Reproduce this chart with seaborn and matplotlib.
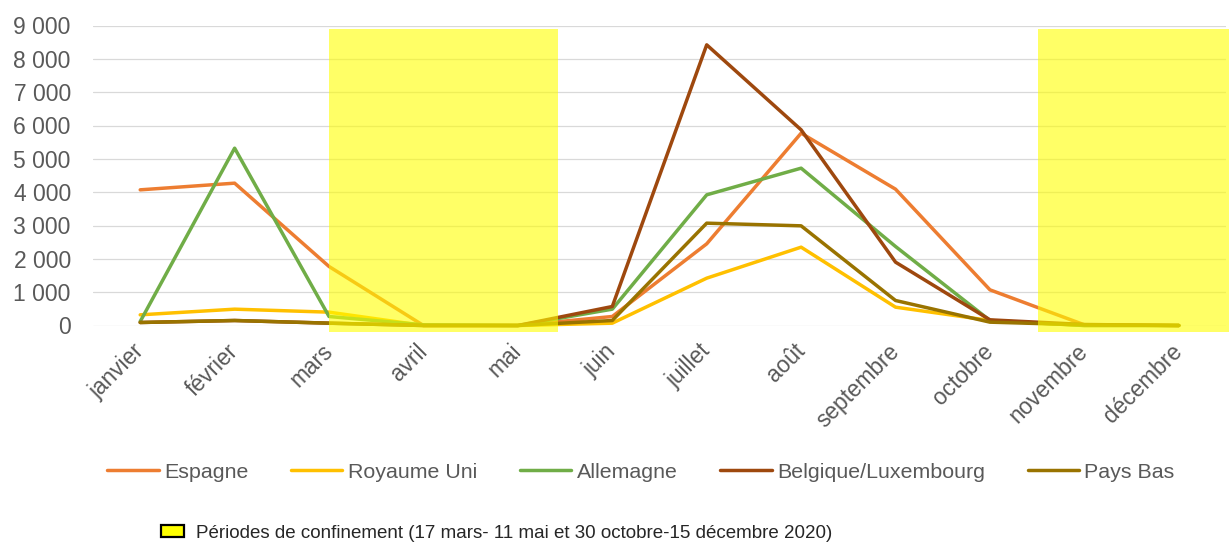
import pandas as pd
import matplotlib
matplotlib.use("Agg")
import matplotlib.pyplot as plt
import seaborn as sns
from matplotlib.patches import Rectangle, Patch
from matplotlib.ticker import FuncFormatter

# month categories
months = ["janvier", "février", "mars", "avril", "mai", "juin", "juillet",
          "août", "septembre", "octobre", "novembre", "décembre"]

# series values
espagne = [4070, 4270, 1770, 0, 0, 270, 2450, 5770, 4090, 1070, 20, 0]
royaume_uni = [320, 490, 400, 0, 0, 70, 1420, 2350, 550, 150, 0, 0]
allemagne = [120, 5320, 270, 20, 0, 490, 3920, 4720, 2370, 150, 0, 0]
belgique_lux = [90, 150, 70, 0, 0, 570, 8420, 5870, 1900, 170, 30, 0]
pays_bas = [90, 150, 70, 0, 0, 150, 3070, 2990, 750, 100, 20, 0]

series_names = ["Espagne", "Royaume Uni", "Allemagne", "Belgique/Luxembourg", "Pays Bas"]
series_values = [espagne, royaume_uni, allemagne, belgique_lux, pays_bas]
colors = ["#ED7D31", "#FFC000", "#70AD47", "#9E480E", "#997300"]

# lockdown periods in month-index units (17 mars - 11 mai, 30 oct - 15 dec)
lockdowns = [(2.0, 4.43), (9.51, 11.55)]
lockdown_label = "Périodes de confinement (17 mars- 11 mai et 30 octobre-15 décembre 2020)"

rows = []
for name, vals in zip(series_names, series_values):
    for i, v in enumerate(vals):
        rows.append({"pos": i, "mois": months[i], "valeur": v, "pays": name})
df = pd.DataFrame(rows)

sns.set_style("white")
plt.rcParams["font.family"] = ["Liberation Sans", "DejaVu Sans"]
text_color = "#595959"

fig = plt.figure(figsize=(12.29, 5.45), dpi=100)
ax = fig.add_axes([93 / 1229, 1 - 325.5 / 545, (1226 - 93) / 1229, 300 / 545])

sns.lineplot(data=df, x="pos", y="valeur", hue="pays", hue_order=series_names,
             palette=colors, linewidth=2.5, ax=ax, clip_on=False)

for x0, x1 in lockdowns:
    ax.add_patch(Rectangle((x0, -190), x1 - x0, 9100, facecolor="#FFFF00",
                           alpha=0.6, edgecolor="none", zorder=5, clip_on=False))

ax.set_xlim(-0.5, 11.5)
ax.set_ylim(0, 9000)
ax.set_yticks(range(0, 9001, 1000))
ax.yaxis.set_major_formatter(FuncFormatter(lambda v, p: f"{int(v):,}".replace(",", " ")))
ax.set_xticks(range(len(months)))
ax.set_xticklabels(months, rotation=45, ha="right", va="center", rotation_mode="anchor")
ax.tick_params(axis="y", length=0, pad=16, labelsize=16.5, labelcolor=text_color)
ax.tick_params(axis="x", length=0, pad=16, labelsize=16.3, labelcolor=text_color)
ax.grid(axis="y", color="#D9D9D9", linewidth=0.9)
ax.grid(axis="x", visible=False)
ax.set_axisbelow(True)
for s in ax.spines.values():
    s.set_visible(False)
ax.set_xlabel("")
ax.set_ylabel("")

handles, labels = ax.get_legend_handles_labels()
ax.get_legend().remove()
leg = fig.legend(handles, labels, loc="center", bbox_to_anchor=(0.5215, 1 - 472 / 545),
                 ncol=5, frameon=False, fontsize=15.4, handlelength=2.4,
                 handletextpad=0.25, columnspacing=2.0, borderpad=0)
for t in leg.get_texts():
    t.set_color(text_color)

box = Patch(facecolor="#FFFF00", edgecolor="black", linewidth=1.6)
leg2 = fig.legend([box], [lockdown_label], loc="center left",
                  bbox_to_anchor=(161 / 1229, 1 - 533 / 545), frameon=False,
                  fontsize=13.5, handlelength=1.25, handleheight=0.65,
                  handletextpad=0.6, borderpad=0, borderaxespad=0)
for t in leg2.get_texts():
    t.set_color("#262626")

fig.savefig("out.png", dpi=100)
